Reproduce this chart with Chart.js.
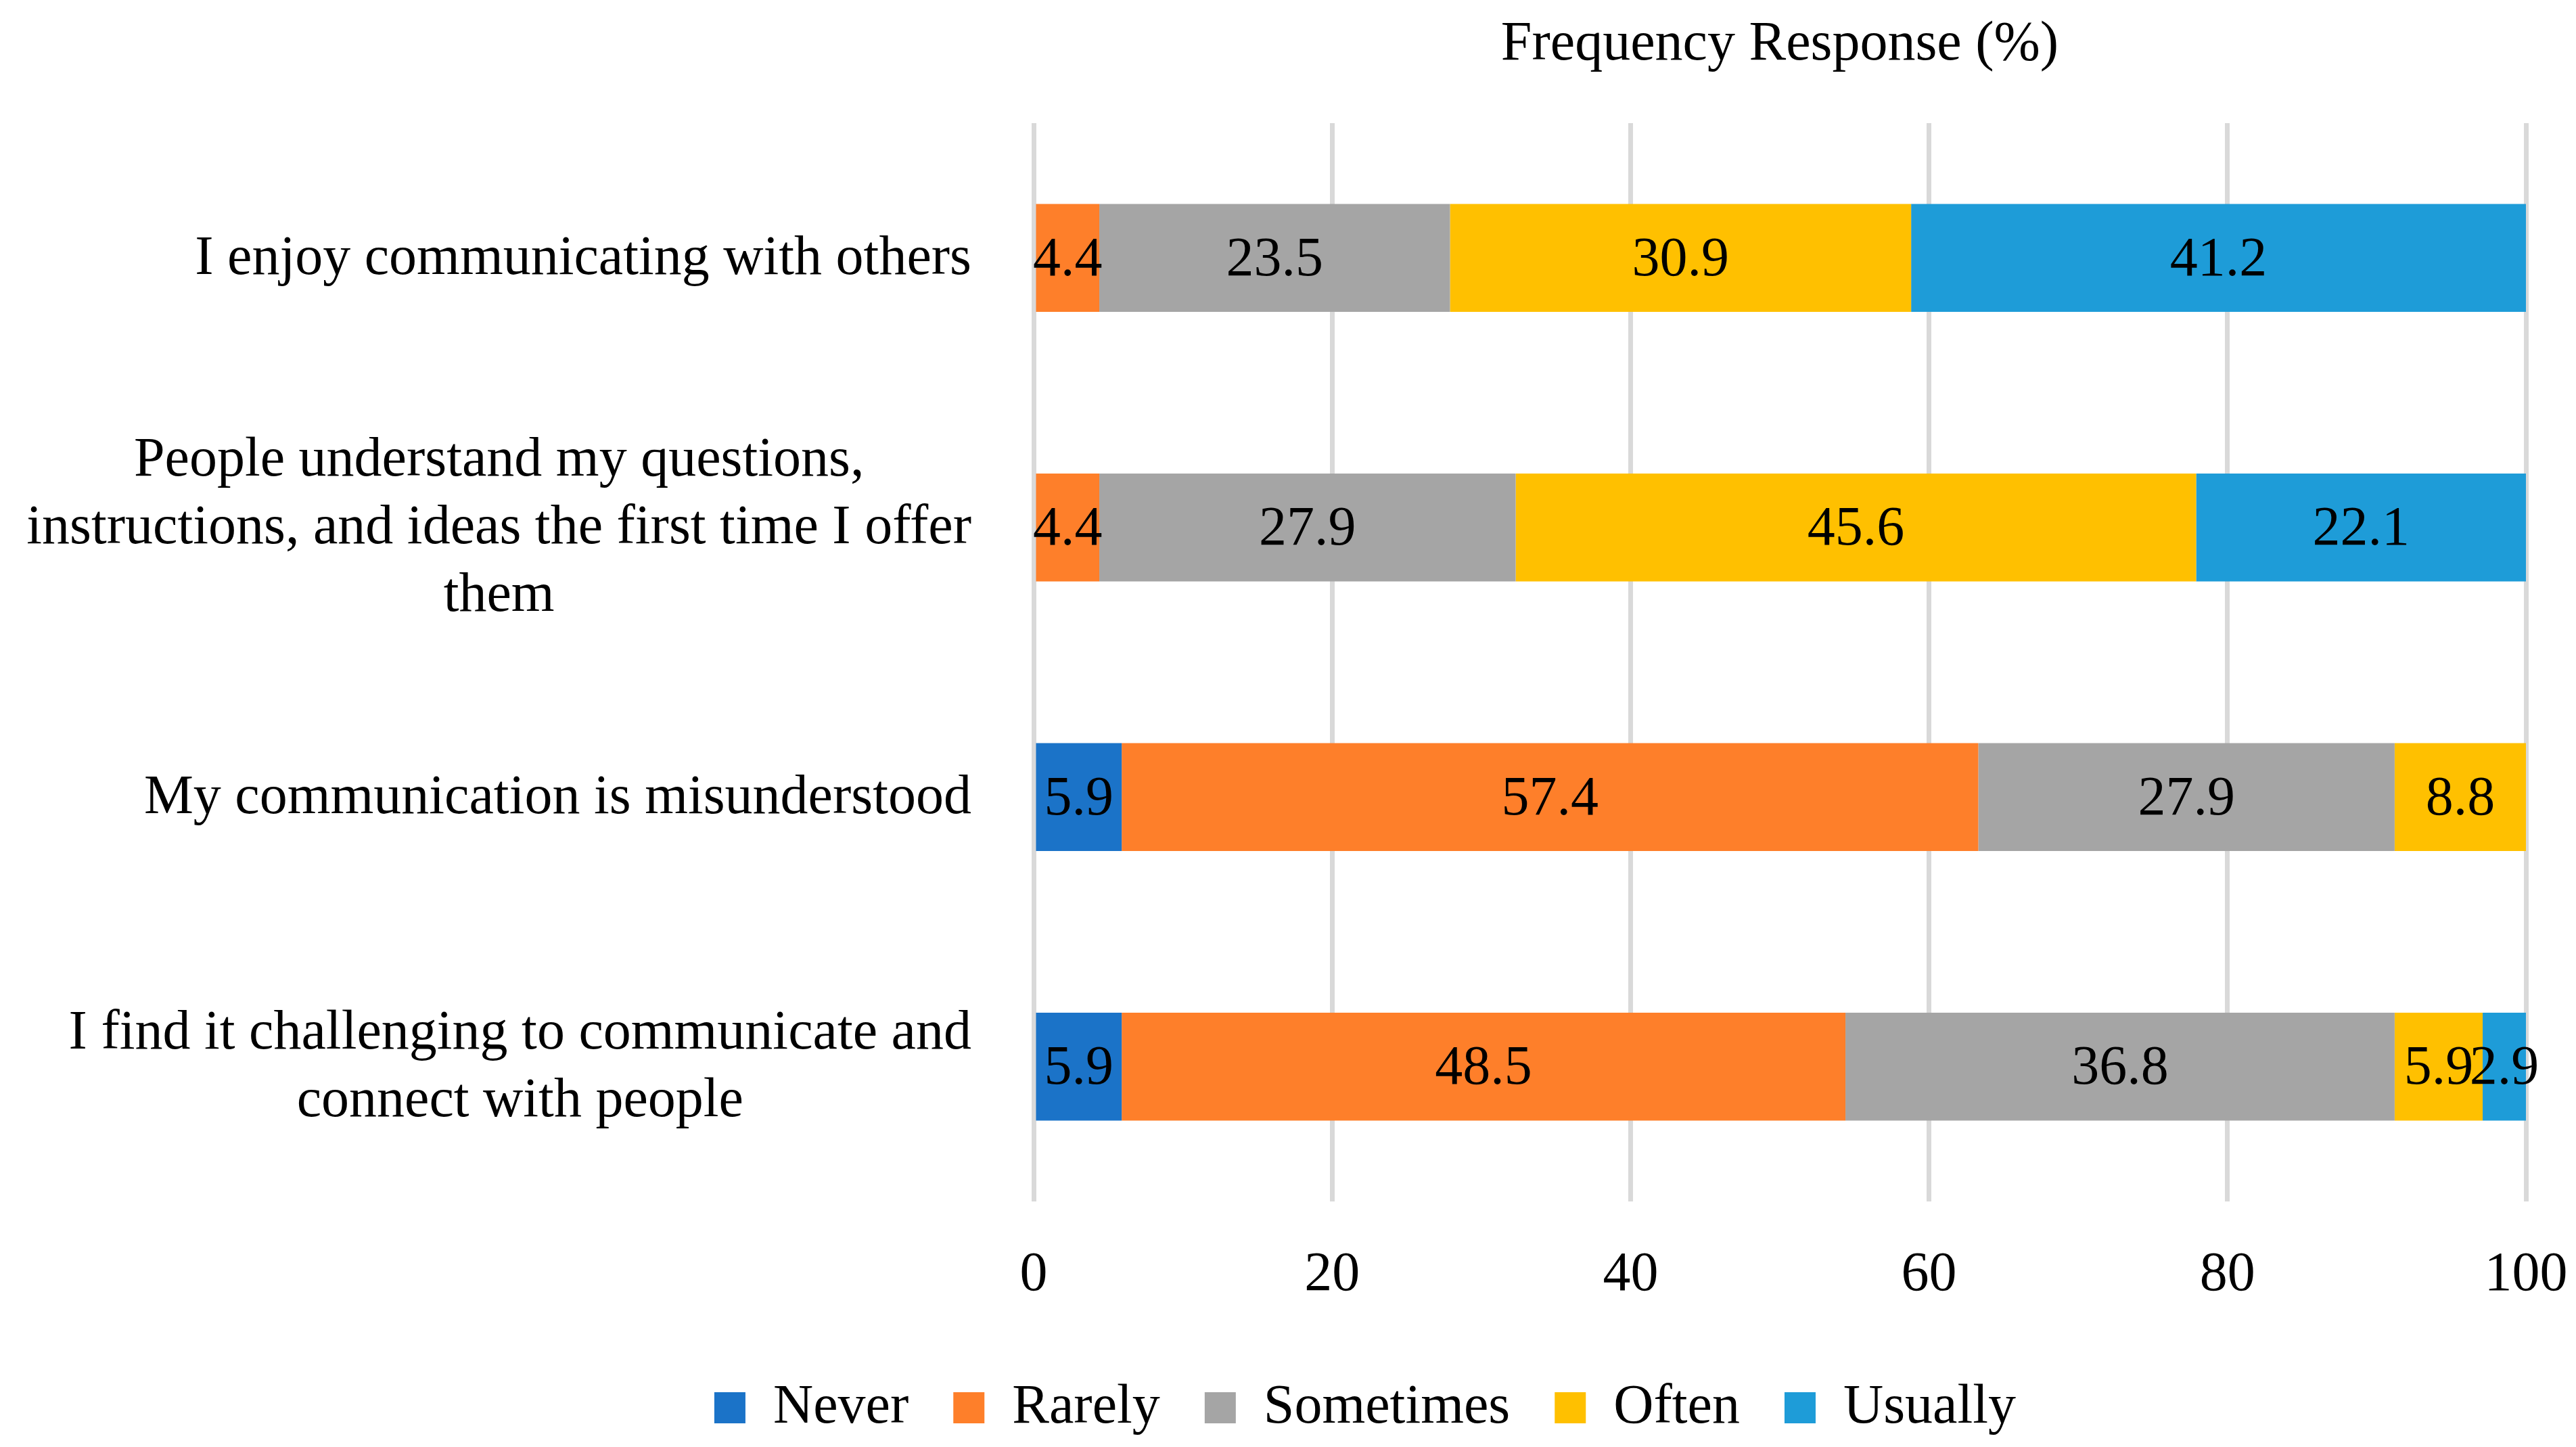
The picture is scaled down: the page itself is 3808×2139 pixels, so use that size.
<!DOCTYPE html>
<html>
<head>
<meta charset="utf-8">
<script src="https://cdn.jsdelivr.net/npm/chart.js@4/dist/chart.umd.min.js"></script>
<style>
  html, body { margin: 0; padding: 0; background: #fff; }
  #wrap { width: 3808px; height: 2139px; }
</style>
</head>
<body>
<div id="wrap"><canvas id="freqChart"></canvas></div>
<script>
// statements, top to bottom
const statements = [
    'I enjoy communicating with others',
    ['People understand my questions,', 'instructions, and ideas the first time I offer', 'them'],
    'My communication is misunderstood',
    ['I find it challenging to communicate and', 'connect with people']
];

// answers per statement (%)
const never     = [0,    0,    5.9,  5.9];
const rarely    = [4.4,  4.4,  57.4, 48.5];
const sometimes = [23.5, 27.9, 27.9, 36.8];
const often     = [30.9, 45.6, 8.8,  5.9];
const usually   = [41.2, 22.1, 0,    2.9];

const xTicks = [0, 20, 40, 60, 80, 100];

const FONT = '"Liberation Serif", "Times New Roman", serif';
const FS = 82;
Chart.defaults.font.family = FONT;
Chart.defaults.font.size = FS;
Chart.defaults.color = '#000';

// value labels in the middle of each segment
const segmentLabels = {
    id: 'segmentLabels',
    afterDatasetsDraw(chart) {
        const ctx = chart.ctx;
        ctx.save();
        ctx.font = FS + 'px ' + FONT;
        ctx.fillStyle = '#000';
        ctx.textAlign = 'center';
        ctx.textBaseline = 'middle';
        chart.data.datasets.forEach((ds, i) => {
            chart.getDatasetMeta(i).data.forEach((bar, j) => {
                const v = ds.data[j];
                if (!v) return;
                const p = bar.getCenterPoint();
                ctx.fillText(v.toFixed(1), p.x, p.y + 4);
            });
        });
        ctx.restore();
    }
};

// category labels: lines centred on each other, block right aligned
const categoryLabels = {
    id: 'categoryLabels',
    afterDraw(chart) {
        const ctx = chart.ctx;
        const y = chart.scales.y;
        const right = chart.chartArea.left - 92;
        ctx.save();
        ctx.font = FS + 'px ' + FONT;
        ctx.fillStyle = '#000';
        ctx.textAlign = 'center';
        ctx.textBaseline = 'middle';
        statements.forEach((s, i) => {
            const lines = Array.isArray(s) ? s : [s];
            const w = Math.max(...lines.map(l => ctx.measureText(l).width));
            const cy = y.getPixelForValue(i);
            lines.forEach((l, k) => {
                ctx.fillText(l, right - w / 2, cy + (k - (lines.length - 1) / 2) * 100 + 2);
            });
        });
        ctx.restore();
    }
};

new Chart(document.getElementById('freqChart'), {
    type: 'bar',
    data: {
        labels: statements,
        datasets: [
            { label: 'Never',     data: never,     backgroundColor: '#1B73C8' },
            { label: 'Rarely',    data: rarely,    backgroundColor: '#FE7F2A' },
            { label: 'Sometimes', data: sometimes, backgroundColor: '#A5A5A5' },
            { label: 'Often',     data: often,     backgroundColor: '#FFC000' },
            { label: 'Usually',   data: usually,   backgroundColor: '#1E9CD8' }
        ]
    },
    options: {
        indexAxis: 'y',
        responsive: true,
        maintainAspectRatio: false,
        devicePixelRatio: 1,
        animation: false,
        categoryPercentage: 1,
        barPercentage: 0.4,
        layout: { padding: { left: 302, right: 74, top: 0, bottom: 7 } },
        scales: {
            x: {
                stacked: true,
                min: 0,
                max: 100,
                afterBuildTicks: s => { s.ticks = xTicks.map(v => ({ value: v })); },
                afterFit: s => {
                    s.height = 198;
                    s.paddingLeft = 0;
                    s.paddingRight = 0;
                },
                grid: { color: '#D9D9D9', lineWidth: 7, drawTicks: false },
                border: { display: false },
                ticks: { padding: 60, color: '#000' }
            },
            xTop: {
                position: 'top',
                min: 0,
                max: 100,
                afterFit: s => { s.height = 182; },
                grid: { display: false },
                border: { display: false },
                ticks: { display: false },
                title: {
                    display: true,
                    text: 'Frequency Response (%)',
                    color: '#000',
                    font: { size: FS },
                    padding: { top: 17, bottom: 0 }
                }
            },
            y: {
                stacked: true,
                afterFit: s => { s.width = 1226; },
                grid: { display: false },
                border: { display: false },
                ticks: { display: false }
            }
        },
        plugins: {
            legend: {
                position: 'bottom',
                labels: {
                    boxWidth: 46,
                    boxHeight: 46,
                    padding: 66,
                    color: '#000',
                    font: { size: FS }
                }
            },
            title: { display: false },
            tooltip: { enabled: false }
        }
    },
    plugins: [segmentLabels, categoryLabels]
});
</script>
</body>
</html>
